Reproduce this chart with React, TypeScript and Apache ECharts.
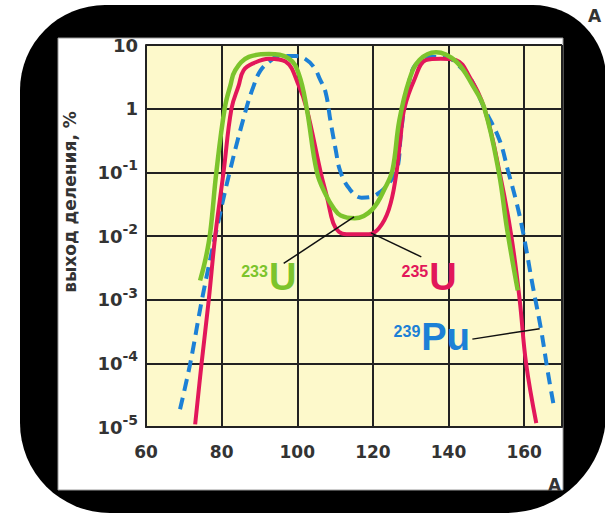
import React, { useEffect, useRef } from "react";
import * as echarts from "echarts";

// x ticks (mass number A) and y decades (fission yield, %)
const xTickValues = [60, 80, 100, 120, 140, 160];
const yDecades = [1, 0, -1, -2, -3, -4, -5];

// 233U (green)
const u233X = [74.3, 75.8, 77.0, 78.6, 80.8, 82.3, 83.6, 87.2, 92.5, 97.8, 100.4, 102.5, 105.2, 107.5, 109.5, 111.5, 115.2, 119.8, 123.4, 125.2, 127.0, 129.6, 132.3, 136.7, 142.0, 146.4, 149.5, 153.3, 155.5, 158.3];
const u233Y = [2.0e-3, 4.5e-3, 1.15e-2, 0.10, 1.0, 2.3, 4.0, 6.5, 7.2, 6.1, 3.5, 1.0, 0.10, 0.045, 0.028, 0.021, 0.019, 0.026, 0.060, 0.11, 0.66, 2.8, 5.8, 7.7, 5.5, 2.3, 1.0, 0.10, 0.0126, 1.4e-3];

// 235U (red)
const u235X = [73.0, 74.7, 76.6, 78.3, 80.5, 82.6, 84.5, 85.8, 88.5, 92.5, 96.9, 100.4, 102.5, 106.2, 107.9, 109.5, 111.0, 113.0, 119.0, 121.6, 124.2, 126.0, 127.3, 128.3, 130.9, 134.0, 138.0, 142.0, 145.5, 149.5, 153.5, 156.6, 158.8, 160.5, 163.2];
const u235Y = [1.1e-5, 1e-4, 1e-3, 1e-2, 0.10, 1.0, 2.3, 4.0, 5.2, 6.1, 5.5, 2.3, 1.0, 0.10, 0.04, 0.016, 0.0117, 0.0107, 0.0107, 0.0132, 0.026, 0.08, 0.35, 1.0, 2.8, 5.8, 6.1, 5.8, 3.2, 1.0, 0.10, 0.010, 1e-3, 1e-4, 1.15e-5];

// 239Pu (blue, dashed)
const pu239X = [69.0, 71.7, 74.8, 78.3, 82.1, 86.5, 88.5, 90.3, 93.0, 95.0, 99.5, 102.0, 104.5, 106.0, 107.5, 108.8, 110.2, 111.3, 113.7, 117.0, 119.5, 122.1, 124.5, 126.4, 127.4, 128.3, 130.4, 132.5, 134.5, 139.4, 142.5, 145.5, 149.5, 153.5, 155.7, 157.9, 159.7, 162.3, 164.5, 166.3, 168.0];
const pu239Y = [1.9e-5, 1e-4, 1e-3, 1e-2, 0.10, 1.0, 2.3, 4.0, 5.7, 6.7, 6.7, 6.1, 4.4, 2.9, 1.8, 0.63, 0.22, 0.107, 0.056, 0.040, 0.041, 0.050, 0.071, 0.11, 0.40, 1.0, 4.0, 5.7, 6.5, 6.5, 4.8, 3.2, 1.0, 0.32, 0.107, 0.035, 0.0115, 1.6e-3, 3.3e-4, 7e-5, 1.9e-5];

// annotation labels (isotope mass, element) and their anchors / leader lines in data coords
const labelMass = ["233", "235", "239"];
const labelElement = ["U", "U", "Pu"];
const labelAnchorX = [92.5, 134.9, 132.8];
const labelAnchorY = [2.26e-3, 2.26e-3, 2.59e-4];
const leaderFromX = [96.4, 119.5, 146.3];
const leaderFromY = [3.7e-3, 0.0112, 2.4e-4];
const leaderToX = [115.0, 132.8, 164.1];
const leaderToY = [0.02, 4.7e-3, 3.5e-4];

const yTitle = "выход деления, %";
const xTitle = "A";

const GREEN = "#7cc42c";
const RED = "#e2175a";
const BLUE = "#1c80d6";
const labelColors = [GREEN, RED, BLUE];

const zip = (xs: number[], ys: number[]) => xs.map((x, i) => [x, ys[i]]);

export default function App() {
  const ref = useRef<HTMLDivElement>(null);

  useEffect(() => {
    if (!ref.current) return;
    const chart = echarts.init(ref.current, undefined, { renderer: "svg" });
    const tickFont = { fontFamily: "DejaVu Sans", fontWeight: "bold" as const, color: "#333" };

    chart.setOption({
      animation: false,
      grid: {
        left: 146,
        right: 43,
        top: 45,
        bottom: 88,
        show: true,
        backgroundColor: "#fdf9cb",
        borderColor: "#9a9a90",
        borderWidth: 1,
      },
      xAxis: {
        type: "value",
        min: 60,
        max: 170,
        interval: 20,
        axisLine: { show: true, onZero: false, lineStyle: { color: "#222", width: 2 } },
        axisTick: { show: false },
        splitLine: { show: true, lineStyle: { color: "#222", width: 2 } },
        axisLabel: {
          ...tickFont,
          fontSize: 17,
          margin: 16,
          showMaxLabel: false,
          formatter: (v: number) => (xTickValues.includes(v) ? String(v) : ""),
        },
      },
      yAxis: {
        type: "log",
        logBase: 10,
        min: 1e-5,
        max: 10,
        splitNumber: 6,
        axisLine: { show: true, lineStyle: { color: "#222", width: 2 } },
        axisTick: { show: false },
        minorTick: { show: false },
        splitLine: { show: true, lineStyle: { color: "#222", width: 2 } },
        axisLabel: {
          margin: 8,
          formatter: (v: number) => {
            const e = Math.round(Math.log10(v));
            if (!yDecades.includes(e)) return "";
            if (e === 1) return "{b|10}";
            if (e === 0) return "{b|1}";
            return `{b|10}{s|${e}}`;
          },
          rich: {
            b: { ...tickFont, fontSize: 18 },
            s: { ...tickFont, fontSize: 14, padding: [0, 0, 14, 0] },
          },
        },
      },
      series: [
        {
          name: "239Pu",
          type: "line",
          data: zip(pu239X, pu239Y),
          showSymbol: false,
          smooth: 0.4,
          lineStyle: { color: BLUE, width: 4, type: [12, 7] },
          z: 3,
        },
        {
          name: "235U",
          type: "line",
          data: zip(u235X, u235Y),
          showSymbol: false,
          smooth: 0.4,
          lineStyle: { color: RED, width: 4 },
          z: 4,
        },
        {
          name: "233U",
          type: "line",
          data: zip(u233X, u233Y),
          showSymbol: false,
          smooth: 0.4,
          lineStyle: { color: GREEN, width: 4.5 },
          z: 5,
        },
      ],
    });

    const px = (x: number, y: number) => chart.convertToPixel({ gridIndex: 0 }, [x, y]) as number[];

    const annotations: any[] = [];
    for (let i = 0; i < labelMass.length; i++) {
      const a = px(labelAnchorX[i], labelAnchorY[i]);
      const f = px(leaderFromX[i], leaderFromY[i]);
      const t = px(leaderToX[i], leaderToY[i]);
      annotations.push({
        type: "line",
        shape: { x1: f[0], y1: f[1], x2: t[0], y2: t[1] },
        style: { stroke: "#111", lineWidth: 1.5 },
        z: 10,
      });
      annotations.push({
        type: "text",
        x: a[0],
        y: a[1],
        style: {
          text: labelElement[i],
          fill: labelColors[i],
          font: "bold 38px 'Liberation Sans', Arial, sans-serif",
          textAlign: "left",
          textVerticalAlign: "middle",
        },
        z: 10,
      });
      annotations.push({
        type: "text",
        x: a[0] - 1,
        y: a[1] - 14,
        style: {
          text: labelMass[i],
          fill: labelColors[i],
          font: "bold 16px 'Liberation Sans', Arial, sans-serif",
          textAlign: "right",
          textVerticalAlign: "top",
        },
        z: 10,
      });
    }

    chart.setOption({
      graphic: [
        {
          type: "rect",
          shape: { x: 20, y: 5, width: 586, height: 508, r: [85, 73, 100, 90] },
          style: { fill: "#000" },
          z: -20,
          silent: true,
        },
        {
          type: "rect",
          shape: { x: 58, y: 38, width: 505, height: 452 },
          style: { fill: "#fff", stroke: "#999", lineWidth: 1 },
          z: -19,
          silent: true,
        },
        {
          type: "text",
          x: 70,
          y: 202,
          rotation: Math.PI / 2,
          style: {
            text: yTitle,
            fill: "#333",
            font: "bold 17px 'DejaVu Sans', sans-serif",
            textAlign: "center",
            textVerticalAlign: "middle",
          },
          z: 10,
        },
        {
          type: "text",
          x: 548,
          y: 476,
          style: {
            text: xTitle,
            fill: "#333",
            font: "bold 17px 'DejaVu Sans', sans-serif",
            textAlign: "left",
            textVerticalAlign: "top",
          },
          z: 10,
        },
        {
          type: "text",
          x: 588,
          y: 7,
          style: {
            text: xTitle,
            fill: "#333",
            font: "bold 17px 'DejaVu Sans', sans-serif",
            textAlign: "left",
            textVerticalAlign: "top",
          },
          z: 10,
        },
        ...annotations,
      ],
    });

    return () => chart.dispose();
  }, []);

  return (
    <div
      ref={ref}
      style={{ position: "absolute", left: 0, top: 0, width: 605, height: 515, background: "#fff" }}
    />
  );
}
